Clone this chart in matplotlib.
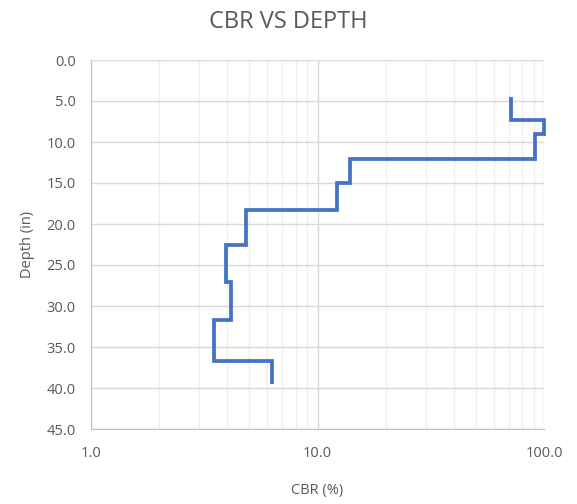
import matplotlib
matplotlib.use("Agg")
import matplotlib.pyplot as plt
from matplotlib.ticker import FixedLocator, FormatStrFormatter, NullFormatter
import numpy as np

# layer boundaries (depth, in) and CBR (%) per layer
depth_edges = [4.5, 7.3, 9.0, 12.1, 15.0, 18.3, 22.5, 27.1, 31.7, 36.7, 39.5]
cbr_values = [71.5, 100.0, 91.0, 13.9, 12.2, 4.83, 3.95, 4.15, 3.49, 6.3]

x_ticks = [1.0, 10.0, 100.0]
y_ticks = [0, 5, 10, 15, 20, 25, 30, 35, 40, 45]

plt.rcParams['font.family'] = ['Open Sans', 'DejaVu Sans']
txt = '#595959'

fig = plt.figure(figsize=(5.77, 5.04), dpi=100)
ax = fig.add_axes([91/577, 1 - 429/504, 453/577, 369/504])

ax.stairs(cbr_values, depth_edges, orientation='horizontal', baseline=None,
          color='#4472C4', linewidth=2.7, zorder=3, clip_on=False)

ax.set_xscale('log')
ax.set_xlim(1, 100)
ax.set_ylim(45, 0)

ax.xaxis.set_major_locator(FixedLocator(x_ticks))
ax.xaxis.set_major_formatter(FormatStrFormatter('%.1f'))
minor = [m * d for d in (1, 10) for m in range(2, 10)]
ax.xaxis.set_minor_locator(FixedLocator(minor))
ax.xaxis.set_minor_formatter(NullFormatter())
ax.yaxis.set_major_locator(FixedLocator(y_ticks))
ax.yaxis.set_major_formatter(FormatStrFormatter('%.1f'))

ax.grid(True, which='major', axis='both', color='#D9D9D9', linewidth=1.0)
ax.grid(True, which='minor', axis='x', color='#EFEFEF', linewidth=1.0)
ax.set_axisbelow(True)

for side in ['top', 'right']:
    ax.spines[side].set_visible(False)
ax.spines['left'].set_color('#BFBFBF')
ax.spines['bottom'].set_color('#BFBFBF')

ax.tick_params(which='both', length=0)
ax.tick_params(axis='x', pad=12, labelsize=10.5, labelcolor=txt)
ax.tick_params(axis='y', pad=11, labelsize=10.5, labelcolor=txt)

ax.set_xlabel('CBR (%)', fontsize=10.5, color=txt, labelpad=16)
ax.set_ylabel('Depth (in)', fontsize=10.5, color=txt, labelpad=8)
fig.suptitle('CBR VS DEPTH', fontsize=17, color=txt, y=0.98)

fig.savefig('out.png', dpi=100)
